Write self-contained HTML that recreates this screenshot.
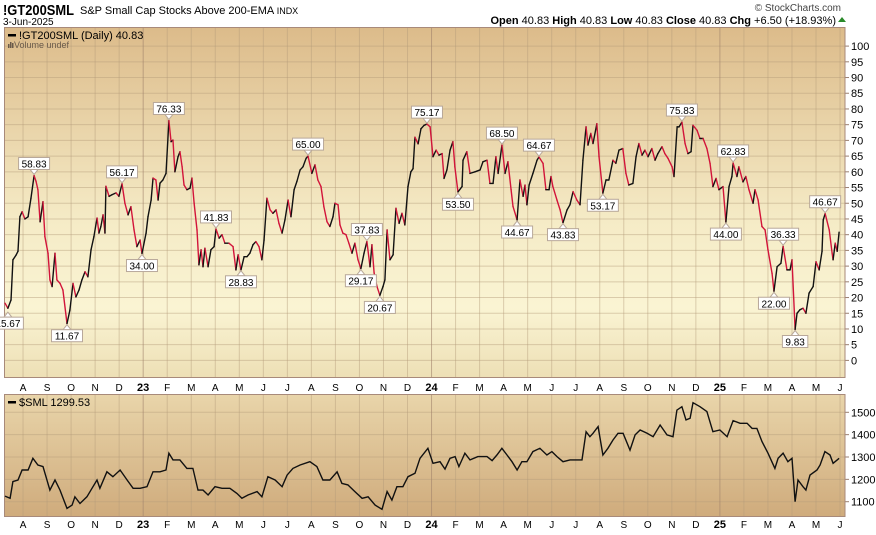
<!DOCTYPE html>
<html><head><meta charset="utf-8">
<style>
html,body{margin:0;padding:0;background:#fff;width:876px;height:535px;overflow:hidden;font-family:"Liberation Sans",Arial,sans-serif;}
svg{display:block}
</style></head>
<body>
<svg id="chart" width="876" height="535" xmlns="http://www.w3.org/2000/svg">
<defs>
<linearGradient id="g1" x1="0" y1="0" x2="0" y2="1">
<stop offset="0" stop-color="#dcbb8a"/><stop offset="0.55" stop-color="#f5ebc6"/><stop offset="0.8" stop-color="#faf4d3"/><stop offset="1" stop-color="#eddfb5"/>
</linearGradient>
<linearGradient id="g2" x1="0" y1="0" x2="0" y2="1">
<stop offset="0" stop-color="#e9d5aa"/><stop offset="1" stop-color="#cfab7c"/>
</linearGradient>
<clipPath id="c1"><rect x="4" y="27" width="841" height="351"/></clipPath>
<clipPath id="c2"><rect x="4" y="394" width="841" height="123"/></clipPath>
</defs>
<text x="3" y="15" font-size="15" font-weight="bold" fill="#000" textLength="71" lengthAdjust="spacingAndGlyphs">!GT200SML</text>
<text x="80" y="14" font-size="11" fill="#000">S&amp;P Small Cap Stocks Above 200-EMA <tspan font-size="9">INDX</tspan></text>
<text x="3" y="25" font-size="10" fill="#000">3-Jun-2025</text>
<text x="841" y="11" font-size="10" fill="#444" text-anchor="end">© StockCharts.com</text>
<text x="836" y="24" font-size="11" fill="#000" text-anchor="end"><tspan font-weight="bold">Open</tspan> 40.83  <tspan font-weight="bold">High</tspan> 40.83  <tspan font-weight="bold">Low</tspan> 40.83  <tspan font-weight="bold">Close</tspan> 40.83  <tspan font-weight="bold">Chg</tspan> +6.50 (+18.93%)</text>
<polygon points="838,22 846,22 842,17" fill="#2a8a2a"/>
<g id="main"></g>
<g id="lower"></g>
</svg>
<script>
// ---- data: main indicator (!GT200SML), dates as months since 1-Jul-2022 ----
const mainDates=[0.25,0.37,0.50,0.58,0.71,0.79,0.87,0.96,1.08,1.21,1.33,1.46,1.54,1.62,1.71,1.83,1.91,2.04,2.12,2.21,2.33,2.41,2.54,2.66,2.83,2.95,3.08,3.20,3.33,3.45,3.58,3.70,3.83,3.95,4.08,4.16,4.24,4.33,4.41,4.45,4.58,4.70,4.87,4.99,5.12,5.24,5.37,5.49,5.62,5.74,5.87,5.95,6.12,6.20,6.33,6.41,6.53,6.62,6.70,6.82,6.95,7.07,7.16,7.24,7.32,7.45,7.53,7.62,7.70,7.82,7.95,8.03,8.12,8.24,8.32,8.41,8.49,8.57,8.70,8.82,8.95,9.03,9.16,9.28,9.40,9.57,9.74,9.86,9.95,10.07,10.20,10.32,10.44,10.57,10.69,10.82,10.94,11.03,11.15,11.28,11.40,11.53,11.65,11.78,11.90,12.03,12.15,12.28,12.40,12.53,12.65,12.78,12.86,13.02,13.15,13.27,13.40,13.52,13.65,13.77,13.90,13.98,14.11,14.19,14.31,14.44,14.56,14.69,14.81,14.94,15.06,15.19,15.31,15.44,15.52,15.61,15.73,15.85,15.98,16.06,16.15,16.27,16.40,16.52,16.65,16.77,16.89,17.02,17.14,17.23,17.31,17.44,17.56,17.69,17.81,17.94,18.06,18.19,18.31,18.44,18.52,18.64,18.77,18.89,18.97,19.10,19.27,19.31,19.47,19.60,19.81,20.02,20.14,20.31,20.43,20.56,20.68,20.77,20.93,21.06,21.18,21.31,21.39,21.56,21.68,21.81,21.89,21.97,22.06,22.22,22.39,22.47,22.64,22.76,22.89,22.97,23.05,23.22,23.35,23.47,23.64,23.76,23.89,24.05,24.18,24.30,24.43,24.51,24.63,24.72,24.88,24.97,25.13,25.26,25.38,25.55,25.67,25.80,25.96,26.09,26.21,26.38,26.51,26.63,26.76,26.88,27.01,27.17,27.30,27.42,27.59,27.71,27.84,28.01,28.09,28.22,28.30,28.42,28.55,28.67,28.80,28.88,29.05,29.17,29.30,29.46,29.59,29.71,29.84,29.96,30.13,30.25,30.38,30.50,30.55,30.71,30.79,30.96,31.08,31.21,31.38,31.46,31.59,31.75,31.88,32.00,32.17,32.25,32.38,32.54,32.63,32.79,32.92,33.00,33.13,33.21,33.33,33.46,33.58,33.71,33.88,34.00,34.13,34.25,34.30,34.38,34.55,34.67,34.71,34.80,34.88,34.96];
const mainValues=[18.2,16.6,19.2,32,33.5,34.7,45.7,47.3,45,45.7,51.6,58.8,57,54.3,44.1,50.5,39.4,34.1,25.6,23.5,34.1,25.6,24.5,22.4,11.7,16,24.5,20.2,22.4,25.6,28.2,26.6,35.2,39.4,45.3,40.5,42.6,46.3,40.5,55.4,52.2,52.7,53.3,52.2,56.2,50,46.3,48.9,41.5,36.2,38.3,34.0,40.5,45.7,51,58,57.4,51,56.4,57.4,59.5,76.3,69.6,70.1,60,64.8,66.4,61.6,55.8,54.3,54.8,58,50,41.5,30.4,35.2,29.8,35.7,29.8,35.2,36.2,41.8,38.9,40,37.3,37.3,36.2,28.8,33.6,28.8,33,33,34.1,36.8,37.8,36.2,32,38.3,51.6,47.9,46.8,47.9,43.6,40.5,44.7,51,45.7,54.3,57,60.6,61.6,64.3,65.0,59.5,62.2,57.4,55.3,48.9,44.1,42.6,45.7,50,49.5,43.1,40.5,40,37.3,34.1,37.3,32,29.2,34.1,37.8,29.8,36.8,27.8,23.5,20.7,23.5,25.6,41.5,32,33.6,48.4,43.6,46.8,43.1,55.3,60,61,71,68.9,73.7,74.8,75.2,74.3,64.8,66.9,65.3,65.8,57.9,60.6,66.9,69.6,61.6,53.6,55.3,63.7,66.4,59.5,60,60.6,63.2,63.7,56.3,56.3,64.8,59.5,68.5,59.5,63.2,54.3,49,44.7,57.4,52.2,55.8,49.5,55.8,59.5,63.7,64.7,62.7,54.3,54.3,58.5,55.3,51,47.9,43.8,47.9,49.5,53.7,51,49.5,63.7,74.3,68.5,72.2,69,75.3,64.8,53.2,57.4,57.4,63.7,62.7,66.9,67.4,59.5,55.8,56.3,64.8,69,65.3,66.9,64.8,67.4,63.7,65.8,68,65.8,64.3,61.6,58.5,74.3,74.3,75.8,69,65.8,66.4,74.8,73.2,70.6,70.6,67.4,62.7,55.3,57.9,54.3,55.3,44,55.3,58.5,62.8,58.5,61.6,56.8,58.5,54.3,50,54.3,51,42.6,41.5,35.2,27.7,22.0,29.8,30.9,36.3,28.8,28.8,32,9.8,15,16.1,16.6,15,21.4,23.5,31.4,28.8,34.7,44.7,46.7,41.5,34.1,32,37.3,34.7,40.8];
// peak/trough annotations
const noteDates=[0.37,1.46,2.83,5.12,5.95,7.07,9.03,10.07,12.86,15.06,15.31,15.85,17.81,19.10,20.93,21.56,22.47,23.47,25.13,28.42,30.25,30.55,32.25,32.63,33.13,34.38];
const noteLabels=["15.67","58.83","11.67","56.17","34.00","76.33","41.83","28.83","65.00","29.17","37.83","20.67","75.17","53.50","68.50","44.67","64.67","43.83","53.17","75.83","44.00","62.83","22.00","36.33","9.83","46.67"];
const noteSides=["below","above","below","above","below","above","above","below","above","below","above","below","above","below","above","below","above","below","below","above","below","above","below","above","below","above"];
const mainTicks=[0,5,10,15,20,25,30,35,40,45,50,55,60,65,70,75,80,85,90,95,100];
// ---- data: lower panel ($SML) ----
const smlDates=[0.25,0.46,0.58,0.79,0.96,1.21,1.41,1.62,1.83,2.12,2.33,2.54,2.83,3.04,3.16,3.37,3.66,3.87,4.08,4.20,4.49,4.74,5.04,5.33,5.58,5.87,6.16,6.41,6.70,6.95,7.07,7.24,7.53,7.82,8.07,8.28,8.49,8.70,8.99,9.28,9.61,9.90,10.11,10.36,10.74,10.94,11.19,11.49,11.78,11.99,12.23,12.53,12.94,13.23,13.48,13.77,14.07,14.27,14.52,14.81,15.11,15.36,15.65,15.94,16.15,16.35,16.56,16.81,17.02,17.31,17.52,17.85,18.06,18.35,18.56,18.77,18.98,19.14,19.39,19.60,19.93,20.31,20.52,20.72,20.93,21.14,21.35,21.56,21.76,21.97,22.22,22.51,22.80,23.01,23.22,23.47,23.76,24.05,24.26,24.43,24.59,24.72,24.93,25.13,25.34,25.55,25.76,25.97,26.26,26.47,26.68,26.97,27.22,27.51,27.80,28.05,28.21,28.42,28.59,28.76,28.88,29.17,29.46,29.71,30.00,30.30,30.55,30.84,31.13,31.34,31.54,31.75,32.00,32.29,32.42,32.63,32.83,33.00,33.13,33.25,33.46,33.58,33.75,34.04,34.17,34.37,34.58,34.71,34.88,34.96];
const smlValues=[1125,1115,1190,1197,1242,1242,1294,1264,1257,1152,1197,1152,1070,1085,1122,1092,1122,1160,1197,1160,1234,1212,1242,1197,1160,1160,1167,1234,1234,1242,1317,1287,1287,1249,1249,1152,1152,1130,1167,1160,1160,1137,1115,1130,1145,1122,1212,1197,1167,1219,1249,1264,1279,1257,1197,1197,1234,1182,1175,1145,1115,1122,1085,1066,1145,1107,1167,1167,1212,1227,1294,1339,1272,1279,1246,1294,1302,1257,1317,1287,1302,1302,1284,1309,1339,1309,1279,1242,1279,1279,1324,1339,1309,1324,1302,1279,1287,1287,1287,1413,1391,1406,1436,1309,1339,1376,1406,1406,1331,1399,1421,1406,1391,1443,1399,1391,1510,1525,1466,1473,1543,1525,1503,1413,1421,1391,1463,1451,1451,1428,1428,1369,1317,1249,1294,1317,1279,1294,1100,1197,1167,1152,1219,1242,1264,1324,1309,1272,1287,1294];
const smlTicks=[1100,1200,1300,1400,1500];
// month axis: months since 1-Jul-2022
const monthTicks=[1,2,3,4,5,6,7,8,9,10,11,12,13,14,15,16,17,18,19,20,21,22,23,24,25,26,27,28,29,30,31,32,33,34,35];
const monthLabels=["A","S","O","N","D","23","F","M","A","M","J","J","A","S","O","N","D","24","F","M","A","M","J","J","A","S","O","N","D","25","F","M","A","M","J"];

const NS="http://www.w3.org/2000/svg";
const X0=-1, PXM=24.03;
function xS(m){return X0+m*PXM;}
function yMain(v){return 360.4-v*3.143;}
function ySml(v){return 501.7-(v-1100)*0.2235;}
function mk(tag,attrs,parent){const e=document.createElementNS(NS,tag);for(const k in attrs)e.setAttribute(k,attrs[k]);parent.appendChild(e);return e;}

function panel(g,top,bottom,fill,clip,yFn,ticks,name){
  const bg=mk('rect',{x:4,y:top,width:841,height:bottom-top,fill:fill},g);
  
  
  ticks.forEach(t=>{
    const y=yFn(t);
    const l=mk('line',{x1:4,x2:845,y1:y,y2:y,stroke:'#b39c7a','stroke-opacity':0.45,'stroke-width':1},g);
    
    
    mk('line',{x1:845,x2:849,y1:y,y2:y,stroke:'#9a7f70'},g);
    const tx=mk('text',{x:851,y:y+4,'font-size':11,fill:'#000'},g);
    tx.textContent=t;
    
    
  });
  monthTicks.forEach((m,i)=>{
    const x=xS(m);
    const yr=/^\d+$/.test(monthLabels[i]);
    const l=mk('line',{x1:x,x2:x,y1:top,y2:bottom,stroke:yr?'#a0826a':'#b39c7a','stroke-opacity':yr?0.6:0.45,'stroke-width':1},g);
    
    
  });
  const br=mk('rect',{x:4.5,y:top+0.5,width:840.5,height:bottom-top-1,fill:'none',stroke:'#a88a7a','stroke-width':1},g);
  
  
}
function monthAxis(g,y,name){
  monthTicks.forEach((m,i)=>{
    const x=xS(m);
    const yr=/^\d+$/.test(monthLabels[i]);
    const t=mk('text',{x:x,y:y,'font-size':yr?11:10,'font-weight':yr?'bold':'normal','text-anchor':'middle',fill:'#000'},g);
    t.textContent=monthLabels[i];
    
    
  });
}

const main=document.getElementById('main');
panel(main,27,378,'url(#g1)','c1',yMain,mainTicks,'main-panel');
monthAxis(main,391,'main-x-axis');
const mg=mk('g',{'clip-path':'url(#c1)'},main);


for(let i=1;i<mainDates.length;i++){
  const up=mainValues[i]>=mainValues[i-1];
  const s=mk('line',{x1:xS(mainDates[i-1]),y1:yMain(mainValues[i-1]),x2:xS(mainDates[i]),y2:yMain(mainValues[i]),stroke:up?'#111':'#d2143a','stroke-width':1.4,'stroke-linecap':'round'},mg);
  
  
}
noteDates.forEach((m,i)=>{
  const x=xS(m), v=Number(noteLabels[i]), y=yMain(v);
  const w=noteLabels[i].length*5.6+3, h=12;
  const ag=mk('g',{},main);
  
  
  let by;
  if(noteSides[i]==='above'){by=y-6-h; mk('polygon',{points:`${x-4},${y-6} ${x+4},${y-6} ${x},${y-1}`,fill:'#fff',stroke:'#b8a89a'},ag);}
  else{by=y+6; mk('polygon',{points:`${x-4},${y+6} ${x+4},${y+6} ${x},${y+1}`,fill:'#fff',stroke:'#b8a89a'},ag);}
  mk('rect',{x:x-w/2,y:by,width:w,height:h,fill:'#fff',stroke:'#b8a89a'},ag);
  const t=mk('text',{x:x,y:by+10,'font-size':10,'text-anchor':'middle',fill:'#000'},ag);
  t.textContent=noteLabels[i];
});
const lg=mk('g',{},main);


mk('rect',{x:8,y:34,width:8,height:2.5,fill:'#000'},lg);
const lt=mk('text',{x:19,y:39,'font-size':11,fill:'#000'},lg); lt.textContent='!GT200SML (Daily) 40.83';
mk('rect',{x:8,y:44,width:1.5,height:4,fill:'#6a5a4a'},lg);
mk('rect',{x:10,y:42,width:1.5,height:6,fill:'#6a5a4a'},lg);
mk('rect',{x:12,y:43,width:1.5,height:5,fill:'#6a5a4a'},lg);
const vt=mk('text',{x:14,y:48,'font-size':9,fill:'#6a5a4a'},lg); vt.textContent='Volume undef';

const lower=document.getElementById('lower');
panel(lower,394,517,'url(#g2)','c2',ySml,smlTicks,'lower-panel');
monthAxis(lower,528,'lower-x-axis');
const sp=smlDates.map((m,i)=>xS(m).toFixed(1)+','+ySml(smlValues[i]).toFixed(1)).join(' ');
const sl=mk('polyline',{points:sp,fill:'none',stroke:'#111','stroke-width':1.4,'clip-path':'url(#c2)'},lower);


const lg2=mk('g',{},lower);


mk('rect',{x:8,y:401,width:8,height:2.5,fill:'#000'},lg2);
const lt2=mk('text',{x:19,y:406,'font-size':11,fill:'#000'},lg2); lt2.textContent='$SML 1299.53';
</script>
</body></html>
